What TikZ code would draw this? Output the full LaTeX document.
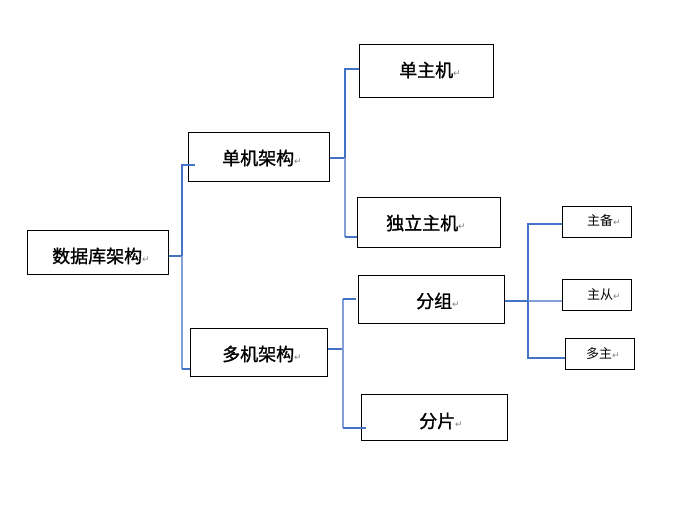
\documentclass[tikz,border=0pt]{standalone}
\usepackage{fontspec}
\newfontfamily\cjk{Noto Sans CJK SC}
\newfontfamily\cjkb{Noto Sans CJK SC}[FakeBold=1.2]
\newfontfamily\dvsym{DejaVu Sans}
\newcommand{\rmark}{{\dvsym\fontsize{9}{9}\selectfont\color{gray}↵}}
\begin{document}
\begin{tikzpicture}[x=1pt,y=-1pt,
  box/.style={draw=black,line width=1pt,rectangle,inner sep=0pt},
  lbl/.style={anchor=west,inner sep=0pt,font=\cjkb\fontsize{18}{18}\selectfont},
  slbl/.style={anchor=west,inner sep=0pt,font=\cjk\fontsize{13}{13}\selectfont},
  conn/.style={draw={rgb,255:red,68;green,114;blue,196},line width=1.2pt},
  connl/.style={draw={rgb,255:red,130;green,160;blue,215},line width=1.3pt}]
\useasboundingbox (0,0) rectangle (681,512);
% boxes
\node[box,minimum width=141pt,minimum height=44pt] (root) at (97.5,252) {};
\node[box,minimum width=141pt,minimum height=49pt] (single) at (258.5,156.5) {};
\node[box,minimum width=137pt,minimum height=48pt] (multi) at (258.5,352) {};
\node[box,minimum width=134pt,minimum height=53pt] (dzj) at (426,70.5) {};
\node[box,minimum width=143pt,minimum height=50pt] (dlzj) at (428.5,222) {};
\node[box,minimum width=146pt,minimum height=48pt] (fz) at (431,299) {};
\node[box,minimum width=146pt,minimum height=46pt] (fp) at (434,417) {};
\node[box,minimum width=69pt,minimum height=31pt] (zb) at (596.5,221.5) {};
\node[box,minimum width=69pt,minimum height=31pt] (zc) at (596.5,294.5) {};
\node[box,minimum width=69pt,minimum height=31pt] (dz) at (599.5,353.5) {};
% texts
\node[lbl] (t-root) at (52,256) {数据库架构\rmark};
\node[lbl] (t-single) at (222,158) {单机架构\rmark};
\node[lbl] (t-multi) at (222,354) {多机架构\rmark};
\node[lbl] (t-dzj) at (399,70) {单主机\rmark};
\node[lbl] (t-dlzj) at (386,223) {独立主机\rmark};
\node[lbl] (t-fz) at (416,301) {分组\rmark};
\node[lbl] (t-fp) at (419,421) {分片\rmark};
\node[slbl] (t-zb) at (587,221) {主备\rmark};
\node[slbl] (t-zc) at (587,295) {主从\rmark};
\node[slbl] (t-dz) at (586,354) {多主\rmark};
% junctions
\coordinate (j1) at (182,256);
\coordinate (j1t) at (182,165);
\coordinate (j1b) at (182,369);
\coordinate (e1t) at (195,165);
\coordinate (e1b) at (190,369);
\coordinate (j2) at (345,158);
\coordinate (j2t) at (345,69);
\coordinate (j2b) at (345,237);
\coordinate (j3) at (343,349);
\coordinate (j3t) at (343,299);
\coordinate (j3b) at (343,428);
\coordinate (e3t) at (356,299);
\coordinate (e3b) at (366,428);
\coordinate (j4) at (528,301);
\coordinate (j4t) at (528,224);
\coordinate (j4b) at (528,358);
% connectors
\draw[conn,line width=1.6pt] (root.east |- j1) -- (j1);
\draw[conn] (j1) -- (j1t) -- (e1t);
\draw[connl] (j1) -- (j1b);
\draw[conn] (j1b) -- (e1b);
\draw[conn,line width=1.6pt] (single.east |- j2) -- (j2);
\draw[conn] (j2) -- (j2t) -- (dzj.west |- j2t);
\draw[connl] (j2) -- (j2b);
\draw[conn] (j2b) -- (dlzj.west |- j2b);
\draw[conn] (multi.east |- j3) -- (j3);
\draw[connl] (j3t) -- (j3b);
\draw[conn] (j3t) -- (e3t);
\draw[conn] (j3b) -- (e3b);
\draw[conn,line width=1.8pt] (fz.east |- j4) -- (j4);
\draw[conn] (j4) -- (j4t) -- (zb.west |- j4t);
\draw[connl] (j4) -- (zc.west |- j4);
\draw[conn] (j4) -- (j4b) -- (dz.west |- j4b);
\end{tikzpicture}
\end{document}
